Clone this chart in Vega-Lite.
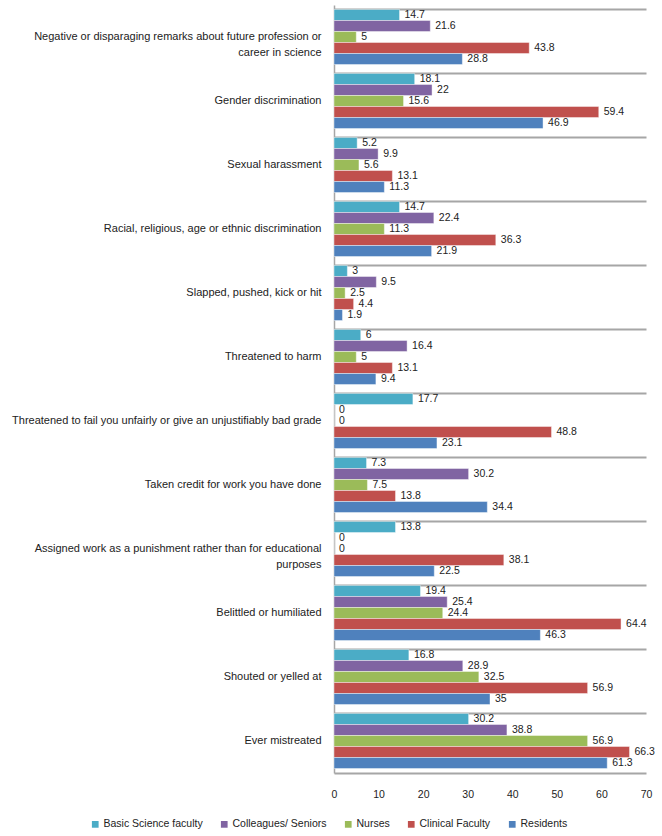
{
  "$schema": "https://vega.github.io/schema/vega-lite/v6.json",
  "width": 312,
  "height": 768,
  "autosize": {"type": "none"},
  "padding": {"left": 334, "top": 5, "right": 16, "bottom": 63},
  "background": "white",
  "config": {
    "font": "Liberation Sans",
    "view": {"stroke": null},
    "axis": {"labelFont": "Liberation Sans", "labelColor": "#222222", "labelFontSize": 10}
  },
  "data": {
    "values": [
      {"item": "Negative or disparaging remarks about future profession or career in science", "group": "Basic Science faculty", "value": 14.7},
      {"item": "Negative or disparaging remarks about future profession or career in science", "group": "Colleagues/ Seniors", "value": 21.6},
      {"item": "Negative or disparaging remarks about future profession or career in science", "group": "Nurses", "value": 5},
      {"item": "Negative or disparaging remarks about future profession or career in science", "group": "Clinical Faculty", "value": 43.8},
      {"item": "Negative or disparaging remarks about future profession or career in science", "group": "Residents", "value": 28.8},
      {"item": "Gender discrimination", "group": "Basic Science faculty", "value": 18.1},
      {"item": "Gender discrimination", "group": "Colleagues/ Seniors", "value": 22},
      {"item": "Gender discrimination", "group": "Nurses", "value": 15.6},
      {"item": "Gender discrimination", "group": "Clinical Faculty", "value": 59.4},
      {"item": "Gender discrimination", "group": "Residents", "value": 46.9},
      {"item": "Sexual harassment", "group": "Basic Science faculty", "value": 5.2},
      {"item": "Sexual harassment", "group": "Colleagues/ Seniors", "value": 9.9},
      {"item": "Sexual harassment", "group": "Nurses", "value": 5.6},
      {"item": "Sexual harassment", "group": "Clinical Faculty", "value": 13.1},
      {"item": "Sexual harassment", "group": "Residents", "value": 11.3},
      {"item": "Racial, religious, age or ethnic discrimination", "group": "Basic Science faculty", "value": 14.7},
      {"item": "Racial, religious, age or ethnic discrimination", "group": "Colleagues/ Seniors", "value": 22.4},
      {"item": "Racial, religious, age or ethnic discrimination", "group": "Nurses", "value": 11.3},
      {"item": "Racial, religious, age or ethnic discrimination", "group": "Clinical Faculty", "value": 36.3},
      {"item": "Racial, religious, age or ethnic discrimination", "group": "Residents", "value": 21.9},
      {"item": "Slapped, pushed, kick or hit", "group": "Basic Science faculty", "value": 3},
      {"item": "Slapped, pushed, kick or hit", "group": "Colleagues/ Seniors", "value": 9.5},
      {"item": "Slapped, pushed, kick or hit", "group": "Nurses", "value": 2.5},
      {"item": "Slapped, pushed, kick or hit", "group": "Clinical Faculty", "value": 4.4},
      {"item": "Slapped, pushed, kick or hit", "group": "Residents", "value": 1.9},
      {"item": "Threatened to harm", "group": "Basic Science faculty", "value": 6},
      {"item": "Threatened to harm", "group": "Colleagues/ Seniors", "value": 16.4},
      {"item": "Threatened to harm", "group": "Nurses", "value": 5},
      {"item": "Threatened to harm", "group": "Clinical Faculty", "value": 13.1},
      {"item": "Threatened to harm", "group": "Residents", "value": 9.4},
      {"item": "Threatened to fail you unfairly or give an unjustifiably bad grade", "group": "Basic Science faculty", "value": 17.7},
      {"item": "Threatened to fail you unfairly or give an unjustifiably bad grade", "group": "Colleagues/ Seniors", "value": 0},
      {"item": "Threatened to fail you unfairly or give an unjustifiably bad grade", "group": "Nurses", "value": 0},
      {"item": "Threatened to fail you unfairly or give an unjustifiably bad grade", "group": "Clinical Faculty", "value": 48.8},
      {"item": "Threatened to fail you unfairly or give an unjustifiably bad grade", "group": "Residents", "value": 23.1},
      {"item": "Taken credit for work you have done", "group": "Basic Science faculty", "value": 7.3},
      {"item": "Taken credit for work you have done", "group": "Colleagues/ Seniors", "value": 30.2},
      {"item": "Taken credit for work you have done", "group": "Nurses", "value": 7.5},
      {"item": "Taken credit for work you have done", "group": "Clinical Faculty", "value": 13.8},
      {"item": "Taken credit for work you have done", "group": "Residents", "value": 34.4},
      {"item": "Assigned work as a punishment rather than for educational purposes", "group": "Basic Science faculty", "value": 13.8},
      {"item": "Assigned work as a punishment rather than for educational purposes", "group": "Colleagues/ Seniors", "value": 0},
      {"item": "Assigned work as a punishment rather than for educational purposes", "group": "Nurses", "value": 0},
      {"item": "Assigned work as a punishment rather than for educational purposes", "group": "Clinical Faculty", "value": 38.1},
      {"item": "Assigned work as a punishment rather than for educational purposes", "group": "Residents", "value": 22.5},
      {"item": "Belittled or humiliated", "group": "Basic Science faculty", "value": 19.4},
      {"item": "Belittled or humiliated", "group": "Colleagues/ Seniors", "value": 25.4},
      {"item": "Belittled or humiliated", "group": "Nurses", "value": 24.4},
      {"item": "Belittled or humiliated", "group": "Clinical Faculty", "value": 64.4},
      {"item": "Belittled or humiliated", "group": "Residents", "value": 46.3},
      {"item": "Shouted or yelled at", "group": "Basic Science faculty", "value": 16.8},
      {"item": "Shouted or yelled at", "group": "Colleagues/ Seniors", "value": 28.9},
      {"item": "Shouted or yelled at", "group": "Nurses", "value": 32.5},
      {"item": "Shouted or yelled at", "group": "Clinical Faculty", "value": 56.9},
      {"item": "Shouted or yelled at", "group": "Residents", "value": 35},
      {"item": "Ever mistreated", "group": "Basic Science faculty", "value": 30.2},
      {"item": "Ever mistreated", "group": "Colleagues/ Seniors", "value": 38.8},
      {"item": "Ever mistreated", "group": "Nurses", "value": 56.9},
      {"item": "Ever mistreated", "group": "Clinical Faculty", "value": 66.3},
      {"item": "Ever mistreated", "group": "Residents", "value": 61.3}
    ]
  },
  "encoding": {
    "y": {
      "field": "item",
      "type": "nominal",
      "sort": null,
      "title": null,
      "scale": {"paddingInner": 0.14, "paddingOuter": 0.07},
      "axis": {
        "domain": true,
        "domainColor": "#a6a6a6",
        "domainWidth": 1.5,
        "ticks": false,
        "labelPadding": 13,
        "labelLimit": 400,
        "labelFontSize": 11,
        "grid": true,
        "bandPosition": 0,
        "gridColor": "#a6a6a6",
        "gridWidth": 2,
        "labelExpr": "datum.value == 'Negative or disparaging remarks about future profession or career in science' ? ['Negative or disparaging remarks about future profession or', 'career in science'] : (datum.value == 'Assigned work as a punishment rather than for educational purposes' ? ['Assigned work as a punishment rather than for educational', 'purposes'] : datum.value)",
        "labelLineHeight": 16
      }
    },
    "yOffset": {
      "field": "group",
      "type": "nominal",
      "sort": ["Basic Science faculty", "Colleagues/ Seniors", "Nurses", "Clinical Faculty", "Residents"],
      "scale": {"paddingInner": 0, "paddingOuter": 0}
    },
    "x": {
      "field": "value",
      "type": "quantitative",
      "title": null,
      "scale": {"domain": [0, 70], "nice": false},
      "axis": {
        "values": [0, 10, 20, 30, 40, 50, 60, 70],
        "grid": false,
        "ticks": false,
        "domain": true,
        "domainColor": "#a6a6a6",
        "domainWidth": 2,
        "labelPadding": 16,
        "labelFontSize": 10.5,
        "labelFlush": false
      }
    }
  },
  "layer": [
    {
      "mark": {"type": "bar", "stroke": "white", "strokeWidth": 0.6, "strokeOpacity": 0.7},
      "encoding": {
        "color": {
          "field": "group",
          "type": "nominal",
          "sort": ["Basic Science faculty", "Colleagues/ Seniors", "Nurses", "Clinical Faculty", "Residents"],
          "scale": {
            "domain": ["Basic Science faculty", "Colleagues/ Seniors", "Nurses", "Clinical Faculty", "Residents"],
            "range": ["#4BACC6", "#8064A2", "#9BBB59", "#C0504D", "#4F81BD"]
          },
          "legend": {
            "title": null,
            "orient": "none",
            "direction": "horizontal",
            "legendX": -244,
            "legendY": 814,
            "symbolType": "square",
            "symbolSize": 45,
            "symbolStrokeWidth": 0,
            "labelFontSize": 10.5,
            "labelColor": "#222222",
            "labelFont": "Liberation Sans",
            "columnPadding": 16,
            "symbolOffset": 0,
            "labelOffset": 3
          }
        }
      }
    },
    {
      "mark": {"type": "text", "align": "left", "baseline": "middle", "dx": 5, "fontSize": 10.5, "color": "#222222", "font": "Liberation Sans"},
      "encoding": {
        "text": {"field": "value", "type": "quantitative", "format": "~g"}
      }
    }
  ]
}
